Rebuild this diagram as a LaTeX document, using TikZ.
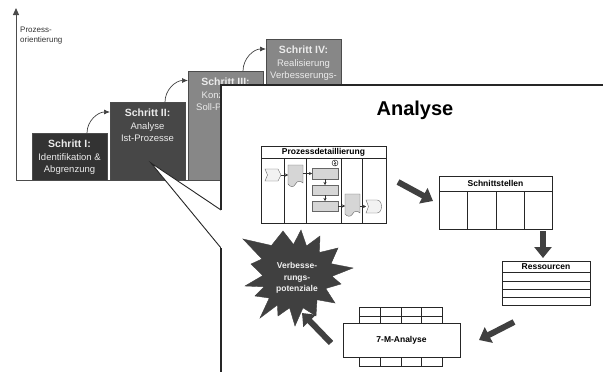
\documentclass[tikz,border=0pt]{standalone}
\usepackage{fontspec}
\setmainfont{Liberation Sans}
\usetikzlibrary{arrows.meta}
\newcommand\stepheadfont{\bfseries\fontsize{10.5}{12.5}\selectfont}

\begin{document}
\begin{tikzpicture}[x=1pt,y=-1pt,
  stepbox/.style={draw=black!70, line width=0.5pt, inner sep=0pt, outer sep=0pt,
                  minimum width=75pt, anchor=south west},
  steplabel/.style={anchor=north, align=center, inner sep=0pt, text=black!8,
                    font=\fontsize{9.5}{12.5}\selectfont},
  curvearrow/.style={draw=black!75, line width=0.7pt, -{Latex[length=6pt,width=5pt]}},
  tbl/.style={draw=black!85, line width=0.6pt},
  tblbox/.style={tbl, fill=white, inner sep=0pt, outer sep=0pt, anchor=north west},
  hdr/.style={font=\bfseries\fontsize{8.5}{10}\selectfont, inner sep=0pt},
  bigarrow/.style={draw=black!75, line width=6pt, -{Triangle[width=17pt,length=11pt]}},
  flow/.style={draw=black!80, line width=0.4pt, -{Stealth[length=3pt,width=3pt]}},
  docfill/.style={draw=black!60, line width=0.4pt, fill=black!16},
  eventfill/.style={draw=black!60, line width=0.4pt, fill=black!5},
]
\useasboundingbox (0,0) rectangle (603,372);

% ---- staircase of steps ----
\node[stepbox, fill=black!80, minimum height=47pt]  (s1) at (32,180) {};
\node[stepbox, fill=black!72, minimum height=78pt]  (s2) at (110,180) {};
\node[stepbox, fill=black!47, minimum height=109pt] (s3) at (188,180) {};
\node[stepbox, fill=black!47, minimum height=141pt] (s4) at (266,180) {};

\node[steplabel] (s1t) at ([yshift=-7pt]s1.north)
  {{\stepheadfont Schritt I:}\\Identifikation \&\\Abgrenzung};
\node[steplabel] (s2t) at ([yshift=-7pt]s2.north)
  {{\stepheadfont Schritt II:}\\Analyse\\Ist-Prozesse};
\node[steplabel] (s3t) at ([yshift=-7pt]s3.north)
  {{\stepheadfont Schritt III:}\\Konzeption\\Soll-Prozesse};
\node[steplabel] (s4t) at ([yshift=-7pt]s4.north)
  {{\stepheadfont Schritt IV:}\\Realisierung\\Verbesserungs-\\potenziale};

\draw[curvearrow] ([xshift=17.5pt]s1.north) to[out=90,in=180] ([yshift=-10pt]s2.north west);
\draw[curvearrow] ([xshift=17.5pt]s2.north) to[out=90,in=180] ([yshift=-9.5pt]s3.north west);
\draw[curvearrow] ([xshift=17.5pt]s3.north) to[out=90,in=180] ([yshift=-10pt]s4.north west);

% ---- axes ----
\coordinate (orig) at (16,180);
\coordinate (ytip) at (16,8);
\coordinate (xend) at (222,180);
\draw[draw=black!70, line width=1pt, -{Triangle[length=7pt,width=6pt]}] (orig) -- (ytip);
\draw[draw=black!70, line width=1pt] (orig) -- (xend);
\node[anchor=north west, inner sep=0pt, align=left, text=black!80,
      font=\fontsize{8}{10}\selectfont] (axl) at (20,27) {Prozess-\\orientierung};

% ---- callout from step II into the detail panel ----
\coordinate (ctip) at (151,163);
\coordinate (cup)  at (221,210);
\coordinate (clow) at (221,248);
\filldraw[fill=white, draw=black!85, line width=0.9pt] (cup) -- (ctip) -- (clow);

\node[fill=white, inner sep=0pt, outer sep=0pt, minimum width=400pt, minimum height=300pt,
      anchor=north west] (panel) at (221,85) {};
\draw[black!85, line width=1.2pt] (cup) -- (panel.north west) -- (panel.north east);
\draw[black!85, line width=1.2pt] (clow) -- (panel.south west);

\node[font=\bfseries\fontsize{20}{24}\selectfont] (title) at (415,110) {Analyse};

% ---- Prozessdetaillierung ----
\node[tblbox, minimum width=125pt, minimum height=77pt] (pd) at (261,146) {};
\node[hdr] (pdh) at (323.5,152.5) {Prozessdetaillierung};
\draw[tbl] (261,158) -- (386,158);
\foreach \x in {284,306,341,362} \draw[tbl] (\x,158) -- (\x,223);

\draw[eventfill] (265,169) -- (278,169) -- (281,175) -- (278,181) -- (265,181) -- (267.5,175) -- cycle;
\draw[docfill] (288,165) -- (303,165) -- (303,183)
  .. controls (300,180) and (297,181) .. (295.5,184)
  .. controls (293.5,188) and (290,187) .. (288,184) -- cycle;
\draw[docfill] (312,168) rectangle (338,179);
\draw[docfill] (312,185) rectangle (338,195);
\draw[docfill] (312,201) rectangle (338,211);
\draw[docfill] (345,194) -- (360,194) -- (360,213)
  .. controls (357,210) and (354,211) .. (352.5,214)
  .. controls (350.5,217.5) and (347,216.5) .. (345,214) -- cycle;
\draw[eventfill] (366,200) -- (377,200) .. controls (383,200) and (383,213) .. (377,213)
  -- (366,213) -- (368.5,206.5) -- cycle;
\draw[line width=0.4pt, fill=white] (335,163) circle (3pt);
\draw[line width=0.4pt] (334,160.8) -- (336,163.2) -- (334.3,163.6) -- (335.8,165.6);

\draw[flow] (281,175) -- (288,175);
\draw[flow] (303,173.5) -- (312,173.5);
\draw[flow] (325,179) -- (325,185);
\draw[flow] (325,195) -- (325,201);
\draw[flow] (338,206) -- (345,206);
\draw[flow] (360,206.5) -- (366,206.5);

% ---- Schnittstellen ----
\node[tblbox, minimum width=113pt, minimum height=53pt] (sn) at (439,176) {};
\node[hdr] (snh) at (495.5,183.5) {Schnittstellen};
\draw[tbl] (439,191) -- (552,191);
\foreach \x in {467,496,524} \draw[tbl] (\x,191) -- (\x,229);

% ---- Ressourcen ----
\node[tblbox, minimum width=88pt, minimum height=44pt] (rs) at (502,261) {};
\node[hdr] (rsh) at (546,266.5) {Ressourcen};
\draw[tbl, line width=1pt] (502,272) -- (590,272);
\foreach \y in {281,289,297} \draw[tbl] (502,\y) -- (590,\y);

% ---- 7-M-Analyse ----
\node[tblbox, minimum width=83pt, minimum height=16pt] (mt) at (359,307) {};
\draw[tbl] (359,316) -- (442,316);
\foreach \x in {380,401,421} \draw[tbl] (\x,307) -- (\x,323);
\node[tblbox, minimum width=83pt, minimum height=9pt] (mb) at (359,357) {};
\foreach \x in {380,401,421} \draw[tbl] (\x,357) -- (\x,366);
\node[tblbox, minimum width=117pt, minimum height=34pt] (ma) at (343,323) {};
\node[hdr] (mah) at (401.5,340) {7-M-Analyse};

% ---- Verbesserungspotenziale ----
\filldraw[fill=black!75, draw=black!75, line join=miter]
  (243,239) -- (271.5,245.5) -- (283,231) -- (293.5,244.5) -- (301,230) -- (306.5,246)
  -- (320,236) -- (319.4,252.5) -- (338,248) -- (331,263.7) -- (353,268) -- (332,276.3)
  -- (341,284) -- (325.7,288.5) -- (335,303) -- (317,299.75) -- (316,316) -- (303,307.8)
  -- (295,326) -- (289.6,307.8) -- (278,316) -- (277.4,305) -- (260,318) -- (269.3,298)
  -- (255,296) -- (264,286.8) -- (245,286) -- (262.7,275.6) -- (251,264) -- (262,259) -- cycle;
\node[align=center, text=black!5, inner sep=0pt, font=\bfseries\fontsize{8.5}{11.5}\selectfont]
  (vp) at (297,278) {Verbesse-\\rungs-\\potenziale};

% ---- flow between the analysis tools ----
\coordinate (a1s) at (398,182); \coordinate (a1e) at (433,201);
\coordinate (a2s) at (543,231); \coordinate (a2e) at (543,258);
\coordinate (a3s) at (514,322); \coordinate (a3e) at (479,340);
\coordinate (a4s) at (331,343); \coordinate (a4e) at (302,313);
\draw[bigarrow] (a1s) -- (a1e);
\draw[bigarrow] (a2s) -- (a2e);
\draw[bigarrow] (a3s) -- (a3e);
\draw[bigarrow] (a4s) -- (a4e);
\end{tikzpicture}
\end{document}
